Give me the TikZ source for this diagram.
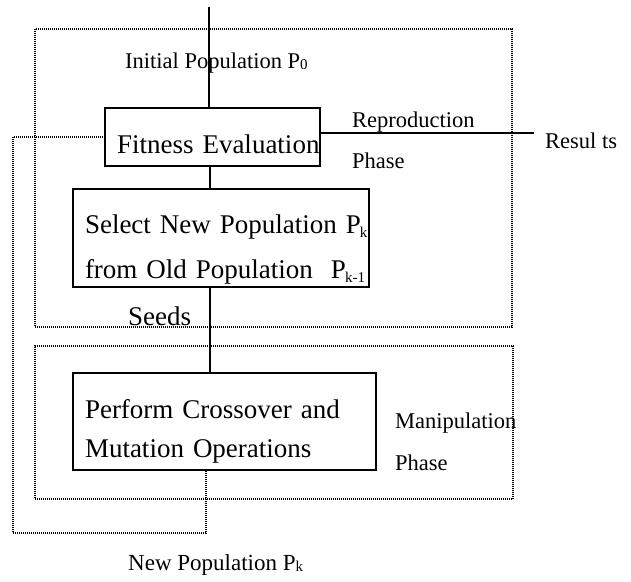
\documentclass[tikz,border=0pt]{standalone}
\usepackage{fontspec}
\setmainfont{Liberation Serif}
\usepackage{tikz}
\usetikzlibrary{positioning,calc}

\newcommand{\stagefont}{\fontsize{27}{45}\selectfont}
\newcommand{\notefont}{\fontsize{22.5}{27}\selectfont}
\newcommand{\subbig}[1]{\kern-1pt\raisebox{-4pt}{\fontsize{15}{15}\selectfont #1}}
\newcommand{\subsmall}[1]{\raisebox{-1.5pt}{\fontsize{15}{15}\selectfont #1}}

\begin{document}
\begin{tikzpicture}[x=1pt, y=-1pt,
    stage/.style={draw, line width=1.5pt, align=left, inner xsep=12pt,
        inner ysep=0pt, font=\stagefont},
    phase/.style={draw, dash pattern=on 1pt off 1pt, line width=1.2pt, inner sep=0pt},
    link/.style={line width=1.3pt},
    loop/.style={dash pattern=on 1pt off 1pt, line width=1.3pt},
    note/.style={anchor=base west, inner sep=0pt, font=\notefont}
]
    \useasboundingbox (0,0) rectangle (631,581);

    % phase frames
    \node[phase, minimum width=477pt, minimum height=298pt] (reproframe) at (273.5,178) {};
    \node[phase, minimum width=478pt, minimum height=153pt] (manipframe) at (274,422.5) {};

    % stages
    \node[stage, minimum width=215pt, minimum height=58pt, text width=191pt,
        text height=32pt, text depth=0pt] (fit) at (212.5,137)
        {\mbox{Fitness Evaluation}};
    \node[stage, minimum width=296pt, minimum height=98pt, text width=272pt,
        text height=20pt, text depth=30pt] (select) at (221,238)
        {\mbox{Select New Population P\subbig{k}}\\
         \mbox{from Old Population\hspace{18pt}P\subbig{k-1}}};
    \node[stage, minimum width=303pt, minimum height=97pt, text width=279pt,
        text height=20pt, text depth=27pt, font=\fontsize{27}{39}\selectfont]
        (perform) at (224.5,421.5)
        {\mbox{Perform Crossover and}\\ \mbox{Mutation Operations}};

    % labels
    \node[note] (init) at (125,68) {Initial Population P\subsmall{0}};
    \node[note] (repro) at (352,127) {Reproduction};
    \node[note] (reprophase) at (352,168) {Phase};
    \node[note] (results) at (545,148) {Resul ts};
    \node[note, font=\stagefont] (seeds) at (128,325) {Seeds};
    \node[note] (manip) at (395,428) {Manipulation};
    \node[note] (manipphase) at (395,470) {Phase};
    \node[note, font=\fontsize{23}{27}\selectfont] (newpop) at (128,570)
        {New Population P\subsmall{k}};

    % connectors
    \coordinate (in) at (209,7);
    \coordinate (spine) at (210,0);
    \coordinate (out) at (534,133);
    \coordinate (back) at (206,533);
    \coordinate (corner) at (13,533);

    \draw[link] (in) -- (in |- fit.north);
    \draw[link] (fit.south -| spine) -- (select.north -| spine);
    \draw[link] (select.south -| spine) -- (perform.north -| spine);
    \draw[link] (fit.east |- out) -- (out);
    \draw[loop] (perform.south -| back) -- (back) -- (corner) |- (fit.west);
\end{tikzpicture}
\end{document}
